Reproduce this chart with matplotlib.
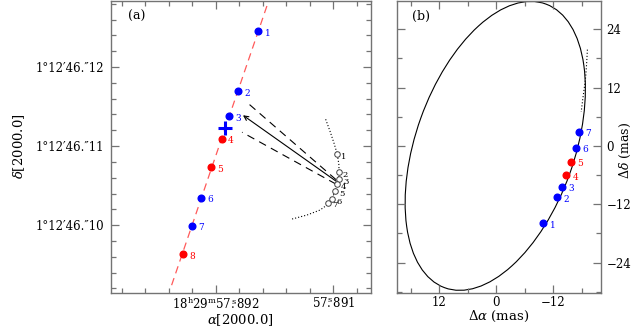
import numpy as np
import matplotlib
matplotlib.use('Agg')
from matplotlib import pyplot as plt
from matplotlib.patches import Ellipse

plt.rcParams['font.family'] = ['DejaVu Serif']
plt.rcParams['mathtext.fontset'] = 'dejavuserif'

# ---- panel (a): positions, RA in seconds (18h29m) and Dec in arcsec (1d12m)
ra_pts = [57.891638, 57.891810, 57.891884, 57.891949, 57.892037, 57.892122, 57.892204, 57.892281]
dec_pts = [46.12451, 46.11697, 46.11381, 46.11096, 46.10730, 46.10346, 46.09992, 46.09635]
pt_labels = ['1', '2', '3', '4', '5', '6', '7', '8']
pt_colors = ['blue', 'blue', 'blue', 'red', 'red', 'blue', 'blue', 'red']

cross_ra, cross_dec = 57.891918, 46.112260

# open circles (relative positions) and dotted track
open_ra = [57.890966, 57.890954, 57.890954, 57.890971, 57.890986, 57.891009, 57.891047]
open_dec = [46.109015, 46.106705, 46.105820, 46.105227, 46.104306, 46.103258, 46.102854]
track_ra = [57.891065, 57.891028, 57.890994, 57.890966, 57.890952, 57.890952, 57.890964,
            57.890986, 57.891011, 57.891054, 57.891113, 57.891224, 57.891351]
track_dec = [46.113396, 46.111881, 46.110366, 46.108977, 46.107588, 46.106326, 46.105316,
             46.104306, 46.103295, 46.102538, 46.101907, 46.101275, 46.100770]

# arrow and dashed cone: (ra0, dec0, ra1, dec1)
arrow_seg = (57.890977, 46.105568, 57.891768, 46.113902)
cone_segs = [(57.890977, 46.105758, 57.891725, 46.115417),
             (57.890977, 46.105189, 57.891776, 46.111755)]

# ---- panel (b): offsets in mas
da_pts = [-9.91, -12.85, -13.90, -14.66, -15.79, -16.69, -17.39]
dd_pts = [-15.94, -10.58, -8.39, -5.98, -3.24, -0.35, 2.89]
b_labels = ['1', '2', '3', '4', '5', '6', '7']
b_colors = ['blue', 'blue', 'blue', 'red', 'red', 'blue', 'blue']

orbit_center = (0.2, 0.0)
orbit_width, orbit_height, orbit_angle = 62.1, 33.3, -69.9

dot_da = [-19.15, -19.0, -18.79, -18.44, -18.16, -17.85]
dot_dd = [19.8, 17.1, 14.2, 11.5, 9.48, 7.0]

fig = plt.figure(figsize=(6.34, 3.32), dpi=100)
ax1 = fig.add_axes([0.1746, 0.1184, 0.4101, 0.880])
ax2 = fig.add_axes([0.6257, 0.1184, 0.3222, 0.880])

spine_col = '0.45'
for ax in (ax1, ax2):
    for s in ax.spines.values():
        s.set_color(spine_col)
        s.set_linewidth(1.0)
    ax.tick_params(which='both', direction='in', top=True, right=True, color=spine_col,
                   labelsize=8.5)
    ax.tick_params(which='major', length=6, width=0.9)
    ax.tick_params(which='minor', length=3.5, width=0.9)

# ---- panel (a)
fit = np.polyfit(dec_pts, ra_pts, 1)
dl = np.array([46.0924, 46.1285])
ax1.plot(np.polyval(fit, dl), dl, color='#ff5a5a', lw=0.9, dashes=(6, 4))

ax1.plot(track_ra, track_dec, color='k', lw=0.8, ls=(0, (1, 1.8)))
for s in cone_segs:
    ax1.plot([s[0], s[2]], [s[1], s[3]], color='k', lw=0.8, dashes=(7, 5))
ax1.annotate('', xy=(arrow_seg[2], arrow_seg[3]), xytext=(arrow_seg[0], arrow_seg[1]),
             arrowprops=dict(arrowstyle='->', color='k', lw=0.8, shrinkA=0, shrinkB=0,
                             mutation_scale=8))

ax1.plot(open_ra, open_dec, 'o', ms=4, mfc='white', mec='0.25', mew=0.7, ls='none')
for r, d, t in zip(open_ra, open_dec, b_labels):
    ax1.annotate(t, (r, d), xytext=(3.0, -2.0), textcoords='offset points',
                 fontsize=6, color='k', va='center', ha='left')

for r, d, t, c in zip(ra_pts, dec_pts, pt_labels, pt_colors):
    ax1.plot(r, d, 'o', ms=4.8, color=c)
    ax1.annotate(t, (r, d), xytext=(4.5, -1.5), textcoords='offset points',
                 fontsize=6.5, color=c, va='center', ha='left')
ax1.plot(cross_ra, cross_dec, '+', ms=10, mew=2.2, color='blue')

ax1.set_xlim(57.892893, 57.890682)
ax1.set_ylim(46.09145, 46.12842)
ax1.set_xticks([57.892, 57.891])
ax1.set_xticklabels([r'18$^{\rm h}$29$^{\rm m}$57$\overset{\rm s}{.}$892',
                     r'57$\overset{\rm s}{.}$891'])
ax1.set_xticks(np.arange(57.8908, 57.89290, 0.0002), minor=True)
ax1.set_yticks([46.10, 46.11, 46.12])
ax1.set_yticklabels(['1°12′46.″10', '1°12′46.″11', '1°12′46.″12'])
ax1.set_yticks(np.arange(46.092, 46.1285, 0.002), minor=True)
ax1.tick_params(axis='y', which='major', pad=5)
ax1.tick_params(axis='x', which='major', pad=2.5)
ax1.set_xlabel(r'$\alpha$[2000.0]', fontsize=9.5, labelpad=0)
ax1.set_ylabel(r'$\delta$[2000.0]', fontsize=9.5, labelpad=6)
ax1.text(0.1, 0.945, '(a)', transform=ax1.transAxes, fontsize=9, ha='center', va='center')

# ---- panel (b)
ax2.add_patch(Ellipse(orbit_center, orbit_width, orbit_height, angle=orbit_angle,
                      fill=False, color='k', lw=0.8))
ax2.plot(dot_da, dot_dd, color='k', lw=0.8, ls=(0, (1, 1.8)))
for a, d, t, c in zip(da_pts, dd_pts, b_labels, b_colors):
    ax2.plot(a, d, 'o', ms=4.8, color=c)
    ax2.annotate(t, (a, d), xytext=(4.5, -1.5), textcoords='offset points',
                 fontsize=6.5, color=c, va='center', ha='left')

ax2.set_xlim(20.9, -22.0)
ax2.set_ylim(-30.2, 29.9)
ax2.set_xticks([12, 0, -12])
ax2.set_xticklabels(['12', '0', '\u221212'])
ax2.set_xticks(np.arange(-18, 19, 6), minor=True)
ax2.set_yticks([-24, -12, 0, 12, 24])
ax2.set_yticklabels(['\u221224', '\u221212', '0', '12', '24'])
ax2.set_yticks(np.arange(-30, 30, 6), minor=True)
ax2.tick_params(axis='y', which='both', labelleft=False, labelright=True)
ax2.tick_params(axis='y', which='major', pad=4)
ax2.tick_params(axis='x', which='major', pad=2.5)
ax2.set_xlabel(r'$\Delta\alpha$ (mas)', fontsize=9.5, labelpad=0)
ax2.yaxis.set_label_position('right')
ax2.set_ylabel(r'$\Delta\delta$ (mas)', fontsize=9)
ax2.yaxis.set_label_coords(1.085, 0.486)
ax2.text(0.12, 0.945, '(b)', transform=ax2.transAxes, fontsize=9, ha='center', va='center')

fig.savefig('out.png', dpi=100)
